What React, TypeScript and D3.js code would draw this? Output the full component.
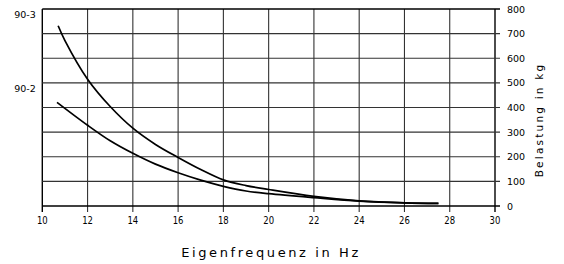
import React from "react";
import * as d3 from "d3";

const xTicks = [10, 12, 14, 16, 18, 20, 22, 24, 26, 28, 30];
const yTicks = [0, 100, 200, 300, 400, 500, 600, 700, 800];
const freq3 = [10.7, 11, 12, 13, 14, 15, 16, 17, 18, 19, 20, 22, 24, 26, 27.5];
const load3 = [732, 672, 515, 404, 316, 250, 197, 148, 106, 83, 67, 39, 21, 13, 11];
const freq2 = [10.65, 12, 13, 14, 15, 16, 17, 18, 19, 20, 22, 24, 26, 27.5];
const load2 = [421, 328, 265, 214, 170, 135, 105, 80, 61, 50, 34, 20, 13, 11];
const curveLabels = ["90-3", "90-2"];
const curveLabelVals = [776, 477];

const W = 564, H = 264;
const x = d3.scaleLinear().domain([10, 30]).range([42.3, 495]);
const y = d3.scaleLinear().domain([0, 800]).range([206, 9]);

export default function App() {
  const line = d3
    .line<[number, number]>()
    .x((d) => x(d[0]))
    .y((d) => y(d[1]))
    .curve(d3.curveCatmullRom.alpha(0.5));
  const c3 = freq3.map((f, i) => [f, load3[i]] as [number, number]);
  const c2 = freq2.map((f, i) => [f, load2[i]] as [number, number]);
  const font = "'DejaVu Sans', sans-serif";
  return (
    <div style={{ position: "absolute", left: 0, top: 0 }}>
      <svg width={W} height={H} style={{ display: "block", background: "#fff" }}>
        {xTicks.map((t) => (
          <line key={"vx" + t} x1={x(t)} x2={x(t)} y1={y(800)} y2={y(0) + 6}
            stroke={t === 10 || t === 30 ? "#000" : "#333"} strokeWidth={t === 10 || t === 30 ? 1.4 : 1.1} />
        ))}
        {yTicks.map((t) => (
          <line key={"hy" + t} x1={x(10)} x2={x(30) + 5} y1={y(t)} y2={y(t)}
            stroke={t === 0 || t === 800 ? "#000" : "#333"} strokeWidth={t === 0 || t === 800 ? 1.4 : 1.1} />
        ))}
        {xTicks.map((t) => (
          <text key={"tx" + t} x={x(t)} y={y(0) + 18} textAnchor="middle"
            fontFamily={font} fontSize={10} transform={`translate(${x(t)},0) scale(0.85,1) translate(${-x(t)},0)`}>{t}</text>
        ))}
        {yTicks.map((t) => (
          <text key={"ty" + t} x={x(30) + 12} y={y(t) + 3.5} textAnchor="start"
            fontFamily={font} fontSize={9.5}>{t}</text>
        ))}
        {curveLabels.map((l, i) => (
          <text key={l} x={25} y={y(curveLabelVals[i]) + 3.5} textAnchor="middle"
            fontFamily={font} fontSize={9.5}>{l}</text>
        ))}
        <path d={line(c3) || ""} fill="none" stroke="#000" strokeWidth={1.7} />
        <path d={line(c2) || ""} fill="none" stroke="#000" strokeWidth={1.7} />
        <text x={271} y={257} textAnchor="middle" fontFamily={font} fontSize={13}
          letterSpacing={2.6}>Eigenfrequenz in Hz</text>
        <text transform={`translate(543,${120}) rotate(-90)`} textAnchor="middle"
          fontFamily={font} fontSize={10.5} letterSpacing={2.2}>Belastung in kg</text>
      </svg>
    </div>
  );
}
